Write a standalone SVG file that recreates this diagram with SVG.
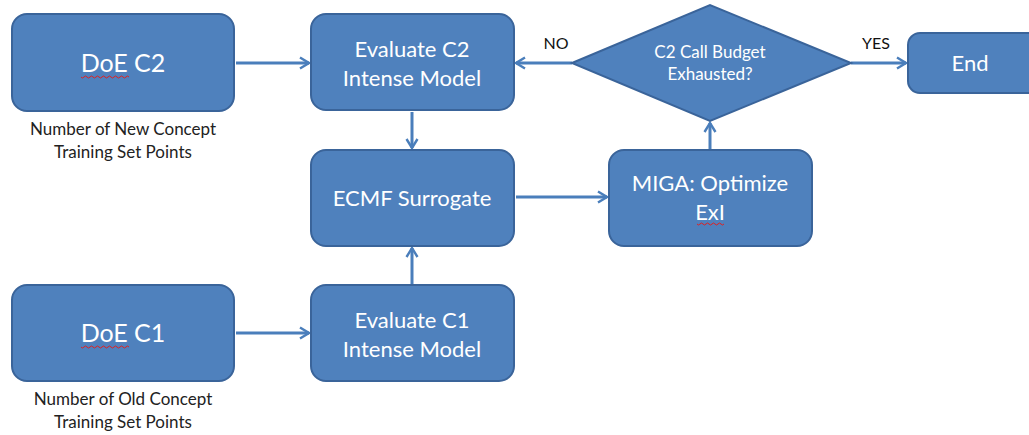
<svg xmlns="http://www.w3.org/2000/svg" width="1029" height="435" viewBox="0 0 1029 435">
<style>
.box{fill:#4f81bd;stroke:#3a649a;stroke-width:2}
.t{fill:#fff;font-family:"Lato","Liberation Sans",sans-serif;text-anchor:middle}
.big{font-size:25px}
.mid{font-size:22px}
.sm{font-size:17px}
.cap{fill:#222;font-family:"Lato","Liberation Sans",sans-serif;font-size:17px;text-anchor:middle}
.lbl{fill:#111;font-family:"Lato","Liberation Sans",sans-serif;font-size:16px;text-anchor:middle}
.c{stroke:#4a7ebb;stroke-width:3;fill:none;marker-end:url(#ah)}
.sq{stroke:#e02020;stroke-width:1;fill:none}
</style>
<defs>
<marker id="ah" viewBox="0 0 14 14" refX="12" refY="7" markerWidth="14" markerHeight="14" markerUnits="userSpaceOnUse" orient="auto">
<path d="M3,1.5 L12,7 L3,12.5" fill="none" stroke="#4a7ebb" stroke-width="2.4"/>
</marker>
</defs>
<rect width="1029" height="435" fill="#fff"/>
<g id="connectors">
<line class="c" x1="236" y1="63" x2="309" y2="63"/>
<line class="c" x1="412" y1="112" x2="412" y2="148"/>
<line class="c" x1="516" y1="197" x2="607" y2="197"/>
<line class="c" x1="710" y1="149" x2="710" y2="123"/>
<line class="c" x1="572" y1="63" x2="516" y2="63"/>
<line class="c" x1="851" y1="63" x2="906" y2="63"/>
<line class="c" x1="236" y1="333" x2="309" y2="333"/>
<line class="c" x1="412" y1="284" x2="412" y2="248"/>
<text class="lbl" x="556" y="49">NO</text>
<text class="lbl" x="876" y="49">YES</text>
</g>
<g id="doe-c2">
<rect class="box" x="12" y="14" width="222" height="97" rx="15"/>
<text class="t big" x="123" y="72">DoE C2</text>
<path class="sq" d="M81,77 q1.5,2 3,0 t3,0 t3,0 t3,0 t3,0 t3,0 t3,0 t3,0 t3,0 t3,0 t3,0 t3,0 t3,0 t3,0 t3,0 t3,0"/>
<text class="cap" x="123" y="135">Number of New Concept</text>
<text class="cap" x="123" y="158">Training Set Points</text>
</g>
<g id="eval-c2">
<rect class="box" x="311" y="14" width="203" height="96" rx="15"/>
<text class="t mid" x="412" y="57">Evaluate C2</text>
<text class="t mid" x="412" y="86">Intense Model</text>
</g>
<g id="ecmf">
<rect class="box" x="311" y="150" width="203" height="96" rx="15"/>
<text class="t mid" x="412" y="206">ECMF Surrogate</text>
</g>
<g id="miga">
<rect class="box" x="609" y="150" width="203" height="96" rx="15"/>
<text class="t mid" x="710" y="191">MIGA: Optimize</text>
<text class="t mid" x="710" y="220">ExI</text>
<path class="sq" d="M697,224 q1.5,2 3,0 t3,0 t3,0 t3,0 t3,0 t3,0 t3,0 t3,0 t3,0"/>
</g>
<g id="decision">
<polygon class="box" points="572,63 710,5 851,63 710,121"/>
<text class="t sm" x="710" y="58">C2 Call Budget</text>
<text class="t sm" x="710" y="80">Exhausted?</text>
</g>
<g id="end">
<rect class="box" x="908" y="33" width="135" height="60" rx="12"/>
<text class="t mid" x="970" y="71">End</text>
</g>
<g id="doe-c1">
<rect class="box" x="12" y="285" width="222" height="96" rx="15"/>
<text class="t big" x="123" y="342">DoE C1</text>
<path class="sq" d="M81,347 q1.5,2 3,0 t3,0 t3,0 t3,0 t3,0 t3,0 t3,0 t3,0 t3,0 t3,0 t3,0 t3,0 t3,0 t3,0 t3,0 t3,0"/>
<text class="cap" x="123" y="405">Number of Old Concept</text>
<text class="cap" x="123" y="428">Training Set Points</text>
</g>
<g id="eval-c1">
<rect class="box" x="311" y="285" width="203" height="96" rx="15"/>
<text class="t mid" x="412" y="328">Evaluate C1</text>
<text class="t mid" x="412" y="357">Intense Model</text>
</g>
</svg>
